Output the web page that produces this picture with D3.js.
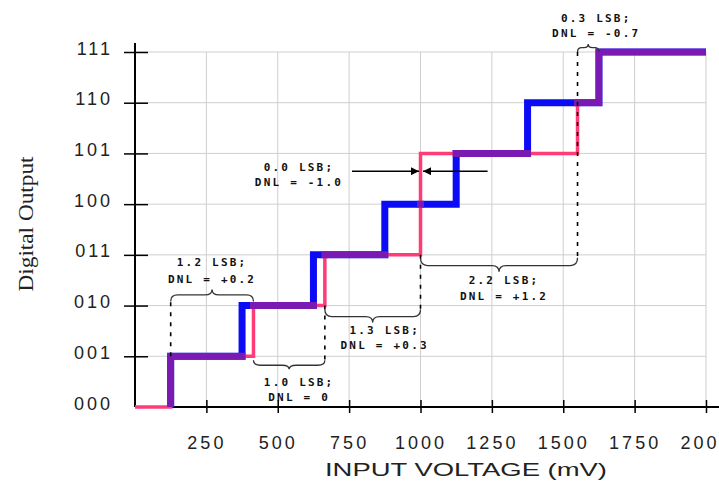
<!DOCTYPE html>
<html>
<head>
<meta charset="utf-8">
<script src="https://cdn.jsdelivr.net/npm/d3@7"></script>
<style>
  body { margin: 0; background: #fff; }
  svg { display: block; }
</style>
</head>
<body>
<script>
var width = 719, height = 482;

// output codes, x ticks, and where each code starts (mV)
var codes = ["000", "001", "010", "011", "100", "101", "110", "111"];
var xTicks = [250, 500, 750, 1000, 1250, 1500, 1750, 2000];
var xMax = 2000;
var idealSteps = [125, 375, 625, 875, 1125, 1375, 1625];
var actualSteps = [125, 415, 665, 1000, 1000, 1550, 1625];

// DNL notes: code whose width is marked, level the brace sits on, side
var notes = [
  { lines: ["1.2 LSB;", "DNL = +0.2"], code: 1, level: 2, side: -1, depth: 12, gap: 4, dash: "start", dashFrom: 1, dx: 0, dy: [-27, -10] },
  { lines: ["1.0 LSB;", "DNL = 0"],    code: 2, level: 1, side: 1,  depth: 9,  gap: 4, dash: "end",   dashFrom: 2, dx: 10, dy: [13, 28] },
  { lines: ["1.3 LSB;", "DNL = +0.3"], code: 3, level: 2, side: 1,  depth: 13, gap: 4, dash: "end",   dashFrom: 3, dx: 12, dy: [8, 23] },
  { lines: ["2.2 LSB;", "DNL = +1.2"], code: 5, level: 3, side: 1,  depth: 14, gap: 3, dash: "end",   dashFrom: 7, dx: 5, dy: [8, 24] },
  { lines: ["0.3 LSB;", "DNL = -0.7"], code: 6, level: 7, side: -1, depth: 8,  gap: 0, dash: null,    dashFrom: null, dx: 8, dy: [-26, -11] }
];
// missing code 100 marked with arrows
var missing = { lines: ["0.0 LSB;", "DNL = -1.0"], at: 1000, level: 4.65, from: 760, to: 1235 };

var x = d3.scaleLinear().domain([0, xMax]).range([135, 706]);
var y = d3.scaleLinear().domain([0, 7]).range([407, 52]);

var svg = d3.select("body").append("svg")
            .attr("width", width)
            .attr("height", height);

var defs = svg.append("defs");
defs.append("marker")
    .attr("id", "arrow")
    .attr("viewBox", "0 0 10 10")
    .attr("refX", 10).attr("refY", 5)
    .attr("markerWidth", 10).attr("markerHeight", 8)
    .attr("markerUnits", "userSpaceOnUse")
    .attr("orient", "auto")
  .append("path")
    .attr("d", "M0,0L10,5L0,10Z")
    .attr("fill", "#000");

// grid
svg.append("g").selectAll("line")
   .data(xTicks).enter().append("line")
   .attr("x1", function(d) { return x(d); })
   .attr("x2", function(d) { return x(d); })
   .attr("y1", y(7)).attr("y2", y(0))
   .attr("stroke", "#cfcfcf").attr("stroke-width", 1);

svg.append("g").selectAll("line")
   .data(d3.range(1, codes.length)).enter().append("line")
   .attr("x1", x(0)).attr("x2", x(xMax))
   .attr("y1", function(d) { return y(d); })
   .attr("y2", function(d) { return y(d); })
   .attr("stroke", "#cfcfcf").attr("stroke-width", 1);

// axes
var xAxisG = svg.append("g")
   .attr("transform", "translate(0," + y(0) + ")")
   .call(d3.axisBottom(x).tickValues(xTicks).tickFormat(d3.format("d")));
xAxisG.select(".domain").remove();
xAxisG.selectAll(".tick line")
   .attr("y1", -7).attr("y2", 6)
   .attr("stroke", "#000").attr("stroke-width", 1.5);
xAxisG.selectAll(".tick text")
   .attr("y", 36).attr("dy", "0.35em")
   .attr("fill", "#222")
   .style("font", "18px 'Liberation Sans', Arial, sans-serif")
   .style("letter-spacing", "3px");

var yAxisG = svg.append("g")
   .attr("transform", "translate(" + x(0) + ",0)")
   .call(d3.axisLeft(y).tickValues(d3.range(codes.length))
           .tickFormat(function(i) { return codes[i]; }));
yAxisG.select(".domain").remove();
yAxisG.selectAll(".tick line")
   .attr("x1", -11).attr("x2", 13)
   .attr("stroke", "#000").attr("stroke-width", 1.5)
   .filter(function(d) { return d === 0; }).remove();
yAxisG.selectAll(".tick text")
   .attr("x", -22).attr("dy", 2)
   .attr("fill", "#222")
   .style("font", "18px 'Liberation Sans', Arial, sans-serif")
   .style("letter-spacing", "3px");

svg.append("line")
   .attr("x1", x(0)).attr("x2", width)
   .attr("y1", y(0)).attr("y2", y(0))
   .attr("stroke", "#000").attr("stroke-width", 2);
svg.append("line")
   .attr("x1", x(0)).attr("x2", x(0))
   .attr("y1", 43).attr("y2", y(0))
   .attr("stroke", "#000").attr("stroke-width", 2);

// axis titles
svg.append("text")
   .attr("transform", "translate(26,224) rotate(-90)")
   .attr("text-anchor", "middle").attr("dy", "0.35em")
   .attr("textLength", 135).attr("lengthAdjust", "spacingAndGlyphs")
   .attr("fill", "#222")
   .style("font", "20px 'Liberation Serif', 'Times New Roman', serif")
   .text("Digital Output");

svg.append("text")
   .attr("x", 466).attr("y", 470)
   .attr("text-anchor", "middle").attr("dy", "0.35em")
   .attr("textLength", 282).attr("lengthAdjust", "spacingAndGlyphs")
   .attr("fill", "#222")
   .style("font", "18px 'Liberation Sans', Arial, sans-serif")
   .text("INPUT VOLTAGE (mV)");

// transfer curves
var line = d3.line()
   .x(function(d) { return x(d[0]); })
   .y(function(d) { return y(d[1]); })
   .curve(d3.curveStepAfter);

var bluePts = [[idealSteps[0], 0]].concat(idealSteps.map(function(v, i) { return [v, i + 1]; }), [[xMax, 7]]);
var pinkPts = [[0, 0]].concat(actualSteps.map(function(v, i) { return [v, i + 1]; }), [[xMax, 7]]);

defs.append("mask")
    .attr("id", "blueMask")
    .attr("maskUnits", "userSpaceOnUse")
    .attr("x", 0).attr("y", 0).attr("width", width).attr("height", height)
  .append("path")
    .attr("d", line(bluePts))
    .attr("fill", "none")
    .attr("stroke", "#fff")
    .attr("stroke-width", 7);

svg.append("path")
   .attr("d", line(bluePts))
   .attr("fill", "none")
   .attr("stroke", "#0b0bf5")
   .attr("stroke-width", 7);

svg.append("path")
   .attr("d", line(pinkPts))
   .attr("fill", "none")
   .attr("stroke", "#ff3c78")
   .attr("stroke-width", 3.5);

// where the two curves overlap it shows purple
svg.append("path")
   .attr("d", line(pinkPts))
   .attr("fill", "none")
   .attr("stroke", "#7a1ab2")
   .attr("stroke-width", 7)
   .attr("mask", "url(#blueMask)");

// annotations
var noteFont = "bold 11px 'DejaVu Sans Mono', monospace";

function brace(x1, x2, y0, dir, h) {
  var m = (x1 + x2) / 2, q = Math.min(7, (x2 - x1) / 5), yb = y0 + dir * h * 0.55, yt = y0 + dir * h;
  return "M" + x1 + "," + y0 +
         "Q" + x1 + "," + yb + " " + (x1 + q) + "," + yb +
         "L" + (m - q) + "," + yb +
         "Q" + m + "," + yb + " " + m + "," + yt +
         "Q" + m + "," + yb + " " + (m + q) + "," + yb +
         "L" + (x2 - q) + "," + yb +
         "Q" + x2 + "," + yb + " " + x2 + "," + y0;
}

var ann = svg.append("g");

notes.forEach(function(n) {
  var x1 = x(actualSteps[n.code - 1]), x2 = x(actualSteps[n.code]);
  var y0 = y(n.level) + n.side * n.gap;
  ann.append("path")
     .attr("d", brace(x1, x2, y0, n.side, n.depth))
     .attr("fill", "none")
     .attr("stroke", "#333")
     .attr("stroke-width", 1.3);

  if (n.dash) {
    var xd = n.dash === "start" ? x1 : x2;
    ann.append("line")
       .attr("x1", xd).attr("x2", xd)
       .attr("y1", y(n.dashFrom)).attr("y2", y0)
       .attr("stroke", "#000").attr("stroke-width", 1.6)
       .attr("stroke-dasharray", "4,6");
  }

  var tipX = (x1 + x2) / 2, tipY = y0 + n.side * n.depth;
  n.lines.forEach(function(t, i) {
    ann.append("text")
       .attr("x", tipX + n.dx).attr("y", tipY + n.dy[i])
       .attr("text-anchor", "middle").attr("dy", "0.35em")
       .attr("fill", "#111")
       .style("font", noteFont)
       .style("letter-spacing", "2.2px")
       .text(t);
  });
});

var ay = y(missing.level);
ann.append("line")
   .attr("x1", x(missing.from)).attr("x2", x(missing.at) - 1.5)
   .attr("y1", ay).attr("y2", ay)
   .attr("stroke", "#000").attr("stroke-width", 1.4)
   .attr("marker-end", "url(#arrow)");
ann.append("line")
   .attr("x1", x(missing.to)).attr("x2", x(missing.at) + 2.5)
   .attr("y1", ay).attr("y2", ay)
   .attr("stroke", "#000").attr("stroke-width", 1.4)
   .attr("marker-end", "url(#arrow)");

missing.lines.forEach(function(t, i) {
  ann.append("text")
     .attr("x", x(missing.from) - 53).attr("y", ay + [-4, 11][i])
     .attr("text-anchor", "middle").attr("dy", "0.35em")
     .attr("fill", "#111")
     .style("font", noteFont)
     .style("letter-spacing", "2.2px")
     .text(t);
});
</script>
</body>
</html>
